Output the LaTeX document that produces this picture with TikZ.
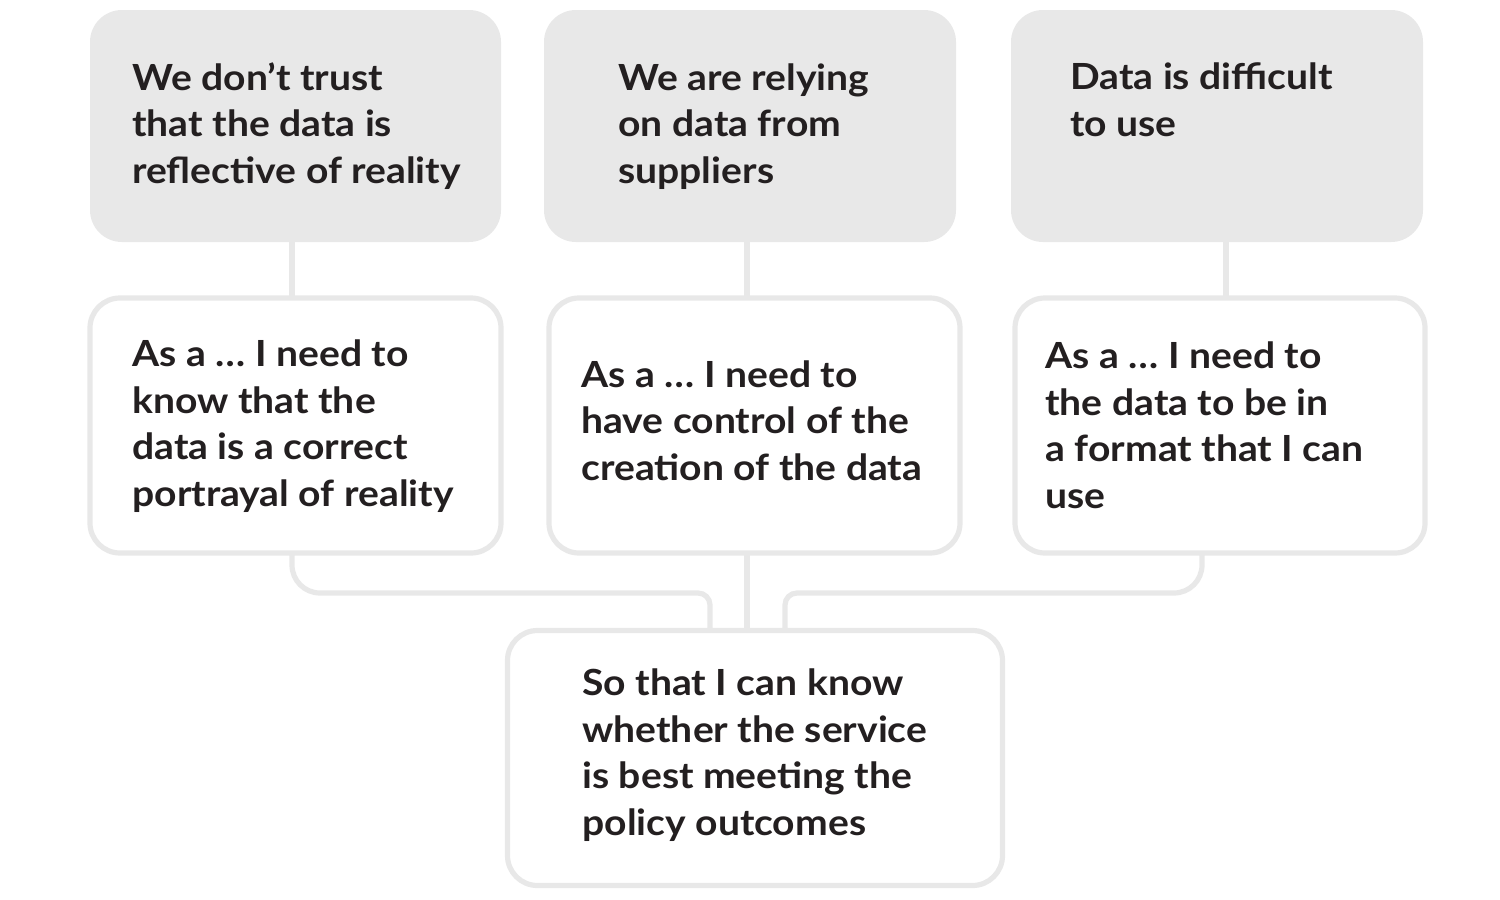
\documentclass[tikz,border=0pt]{standalone}
\usepackage{fontspec}
\setmainfont{Lato}[UprightFont=* Bold, FakeStretch=1.085]
\definecolor{boxgray}{HTML}{E8E8E8}
\definecolor{ink}{HTML}{231F20}
\begin{document}
\begin{tikzpicture}[x=0.5pt,y=-0.5pt,
  topbox/.style={rectangle, fill=boxgray, rounded corners=16pt, inner sep=0pt, outer sep=0pt},
  midbox/.style={rectangle, draw=boxgray, line width=2.6pt, fill=white, rounded corners=15pt, inner sep=0pt, outer sep=0pt, minimum height=127.5pt},
  label/.style={anchor=base west, inner sep=0pt, align=left, text=ink, font=\fontsize{18}{23.25}\selectfont},
  conn/.style={draw=boxgray, line width=2.6pt}]
\useasboundingbox (0,0) rectangle (1500,900);
\fill[white] (0,0) rectangle (1500,900);
% top boxes
\node[topbox, minimum width=205.5pt, minimum height=116pt] (top1) at (295.5,126) {};
\node[topbox, minimum width=206pt, minimum height=116pt] (top2) at (750,126) {};
\node[topbox, minimum width=206pt, minimum height=116pt] (top3) at (1217,126) {};
% middle boxes
\node[midbox, minimum width=205.5pt] (mid1) at (295.5,425.5) {};
\node[midbox, minimum width=205.5pt] (mid2) at (754.5,425.5) {};
\node[midbox, minimum width=205pt] (mid3) at (1220,425.5) {};
% bottom box
\node[midbox, minimum width=247.5pt] (bot) at (755,758) {};
% connectors
\draw[conn] (top1.south -| 292,0) -- (mid1.north -| 292,0);
\draw[conn] (top2.south -| 747,0) -- (mid2.north -| 747,0);
\draw[conn] (top3.south -| 1226,0) -- (mid3.north -| 1226,0);
\draw[conn, rounded corners=14pt] (mid1.south -| 292,0) -- (292,593) [rounded corners=6pt] -- (710,593) -- (bot.north -| 710,0);
\draw[conn] (mid2.south -| 747,0) -- (bot.north -| 747,0);
\draw[conn, rounded corners=14pt] (mid3.south -| 1202,0) -- (1202,593) [rounded corners=6pt] -- (785,593) -- (bot.north -| 785,0);
% texts (anchor = baseline of the last line)
\node[label] (t1) at (132,183) {We don’t trust\\that the data is\\reflective of reality};
\node[label] (t2) at (618,183) {We are relying\\on data from\\suppliers};
\node[label] (t3) at (1070,136) {Data is difficult\\to use};
\node[label] (m1) at (132,506) {As a … I need to\\know that the\\data is a correct\\portrayal of reality};
\node[label] (m2) at (581,480) {As a … I need to\\have control of the\\creation of the data};
\node[label] (m3) at (1045,508) {As a … I need to\\the data to be in\\a format that I can\\use};
\node[label] (b1) at (582,835) {So that I can know\\whether the service\\is best meeting the\\policy outcomes};
\end{tikzpicture}
\end{document}
